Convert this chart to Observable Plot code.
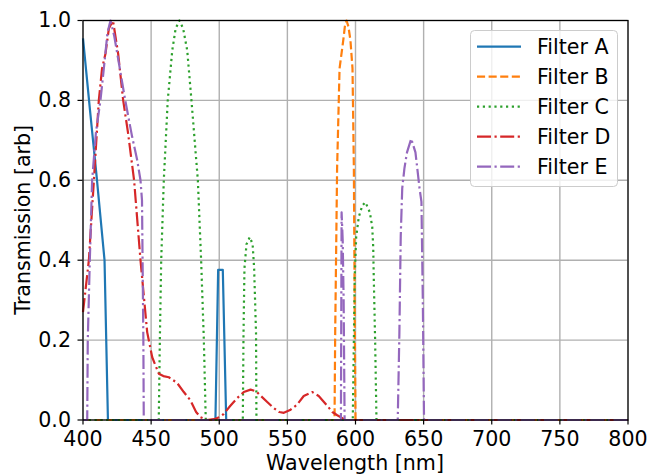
<!DOCTYPE html>
<html><head><meta charset="utf-8">
<script src="https://cdn.jsdelivr.net/npm/d3@7"></script>
<script src="https://cdn.jsdelivr.net/npm/@observablehq/plot@0.6"></script>
<style>
html,body{margin:0;padding:0;background:#fff;}
#wrap{position:relative;width:647px;height:475px;font-family:"DejaVu Sans",sans-serif;}
#wrap svg{display:block;}
</style></head><body><div id="wrap"></div>
<script>
const filterNames = ["Filter A","Filter B","Filter C","Filter D","Filter E"];
const filterColors = ["#1f77b4","#ff7f0e","#2ca02c","#d62728","#9467bd"];
const filterDashes = ["none","8.1,3.5","2.2,3.6","14,3.5,2.2,3.5","14,3.5,2.2,3.5"];

const wlA = [400, 405, 410, 415.8, 418.3, 497.2, 499.2, 502.6, 505.1, 800];
const tA  = [0.955, 0.78, 0.61, 0.40, 0, 0, 0.376, 0.376, 0, 0];

const wlB = [400, 584.6, 585.1, 586.5, 588.3, 591, 592.2, 593.4, 594.8, 596.3, 597.8, 598.8, 599.5, 600, 800];
const tB  = [0, 0, 0.22, 0.63, 0.88, 0.95, 0.985, 1.0, 0.985, 0.95, 0.88, 0.63, 0.22, 0, 0];

const wlC = [400, 455.6, 456.4, 457.4, 459.3, 462.2, 465.5, 468, 470.8, 473.5, 476.5, 479.6, 484.3, 486.7, 488.7, 490.1,
             517.3, 517.8, 518.5, 520, 522.4, 524.5, 525.6, 527.0, 527.3,
             598, 598.8, 599.4, 600.5, 602.4, 605, 607.3, 610.5, 612.3, 613, 613.4, 614.4, 615.4, 800];
const tC  = [0, 0, 0.2, 0.4, 0.6, 0.8, 0.925, 0.98, 1.0, 0.98, 0.925, 0.8, 0.6, 0.4, 0.2, 0,
             0, 0.216, 0.38, 0.44, 0.458, 0.44, 0.38, 0.216, 0,
             0, 0.2, 0.357, 0.458, 0.508, 0.537, 0.545, 0.52, 0.483, 0.433, 0.357, 0.2, 0, 0];

const wlD = [400, 402, 404.3, 408, 411.6, 414, 416.5, 419, 422, 425.8, 429.5, 433, 437.5, 442.2, 447.1, 450.8, 455.6, 459, 463, 466, 469,
             474, 478.9, 483, 486.2, 491, 496, 500, 503.3, 508, 513.2, 518, 523, 527, 530.3, 535.2, 540, 544, 547.4, 552, 557,
             562, 568.2, 573, 579.2, 583, 586.6, 592.7, 800];
const tD  = [0.27, 0.33, 0.4, 0.6, 0.8, 0.88, 0.917, 0.98, 1.0, 0.917, 0.8, 0.72, 0.6, 0.4, 0.22, 0.157, 0.116, 0.11, 0.107, 0.1, 0.093,
             0.07, 0.049, 0.02, 0.007, 0, 0.002, 0.007, 0.015, 0.035, 0.055, 0.07, 0.076, 0.072, 0.061, 0.045, 0.03, 0.02, 0.018, 0.025, 0.038,
             0.06, 0.07, 0.06, 0.036, 0.02, 0.012, 0, 0];

const wlE = [400, 403.1, 403.5, 405, 406.7, 409.5, 412.8, 415.3, 418, 420.2, 423, 427, 431, 436, 439.8, 442.2, 443.3, 444.3, 444.6,
             589.3, 589.8, 590.6, 591.3, 592, 631, 632.2, 633.2, 634.3, 635.9, 637.8, 640.9, 644, 647, 648.4, 649.4, 650.3, 800];
const tE  = [0, 0, 0.2, 0.4, 0.6, 0.72, 0.8, 0.88, 0.97, 1.0, 0.96, 0.88, 0.8, 0.71, 0.65, 0.6, 0.55, 0.2, 0,
             0, 0.52, 0.45, 0.3, 0, 0, 0.216, 0.46, 0.58, 0.63, 0.67, 0.704, 0.67, 0.58, 0.546, 0.3, 0, 0];

const xTicks = [400, 450, 500, 550, 600, 650, 700, 750, 800];
const yTicks = [0, 0.2, 0.4, 0.6, 0.8, 1.0];
const xLabel = "Wavelength [nm]";
const yLabel = "Transmission [arb]";

const series = [[wlA, tA], [wlB, tB], [wlC, tC], [wlD, tD], [wlE, tE]].map(([w, t], i) =>
  w.map((x, j) => ({filter: filterNames[i], wl: x, t: t[j]})));

const FS = "20.6px";
const FONT = '"DejaVu Sans", sans-serif';
const W = 647, H = 475, mL = 82.5, mR = 19.5, mT = 20, mB = 55.5;

const chart = Plot.plot({
  width: W, height: H,
  marginLeft: mL, marginRight: mR, marginTop: mT, marginBottom: mB,
  style: {fontFamily: FONT, fontSize: FS, color: "black", background: "white", overflow: "visible"},
  x: {domain: [400, 800], label: null},
  y: {domain: [0, 1], label: null},
  marks: [
    Plot.gridX(xTicks, {stroke: "#b0b0b0", strokeOpacity: 1, strokeWidth: 1.4}),
    Plot.gridY(yTicks, {stroke: "#b0b0b0", strokeOpacity: 1, strokeWidth: 1.4}),
    ...series.map((d, i) => Plot.line(d, {
      x: "wl", y: "t", stroke: filterColors[i], strokeWidth: 2.2,
      strokeDasharray: filterDashes[i], strokeLinejoin: "round", strokeLinecap: "butt"
    })),
    Plot.frame({stroke: "black", strokeWidth: 1.2}),
    Plot.axisX(xTicks, {tickSize: 5, tickPadding: 6, tickFormat: d => String(d), label: null, stroke: "black", strokeWidth: 1.2, fill: "black", fontSize: 20.6}),
    Plot.axisY(yTicks, {tickSize: 5, tickPadding: 7, tickFormat: d => d.toFixed(1), label: null, stroke: "black", strokeWidth: 1.2, fill: "black", fontSize: 20.6})
  ]
});

const wrap = document.getElementById("wrap");
wrap.appendChild(chart);

const svg = d3.select(chart);
svg.append("text")
  .attr("x", (mL + W - mR) / 2).attr("y", 470)
  .attr("text-anchor", "middle").attr("fill", "black")
  .style("font-size", FS).style("font-family", FONT)
  .text(xLabel);
svg.append("text")
  .attr("transform", `translate(30,${(mT + H - mB) / 2}) rotate(-90)`)
  .attr("text-anchor", "middle").attr("fill", "black")
  .style("font-size", FS).style("font-family", FONT)
  .text(yLabel);

// legend
const lg = svg.append("g");
lg.append("rect").attr("x", 470.5).attr("y", 30.5).attr("width", 147).attr("height", 156)
  .attr("rx", 4).attr("fill", "white").attr("fill-opacity", 0.8).attr("stroke", "#cccccc").attr("stroke-width", 1);
filterNames.forEach((name, i) => {
  const cy = 46.7 + 30 * i;
  lg.append("line").attr("x1", 477).attr("x2", 521).attr("y1", cy).attr("y2", cy)
    .attr("stroke", filterColors[i]).attr("stroke-width", 2.2)
    .attr("stroke-dasharray", filterDashes[i]);
  lg.append("text").attr("x", 537).attr("y", cy + 7.5).attr("fill", "black")
    .attr("text-anchor", "start")
    .style("font-size", FS).style("font-family", FONT)
    .text(name);
});
</script></body></html>
